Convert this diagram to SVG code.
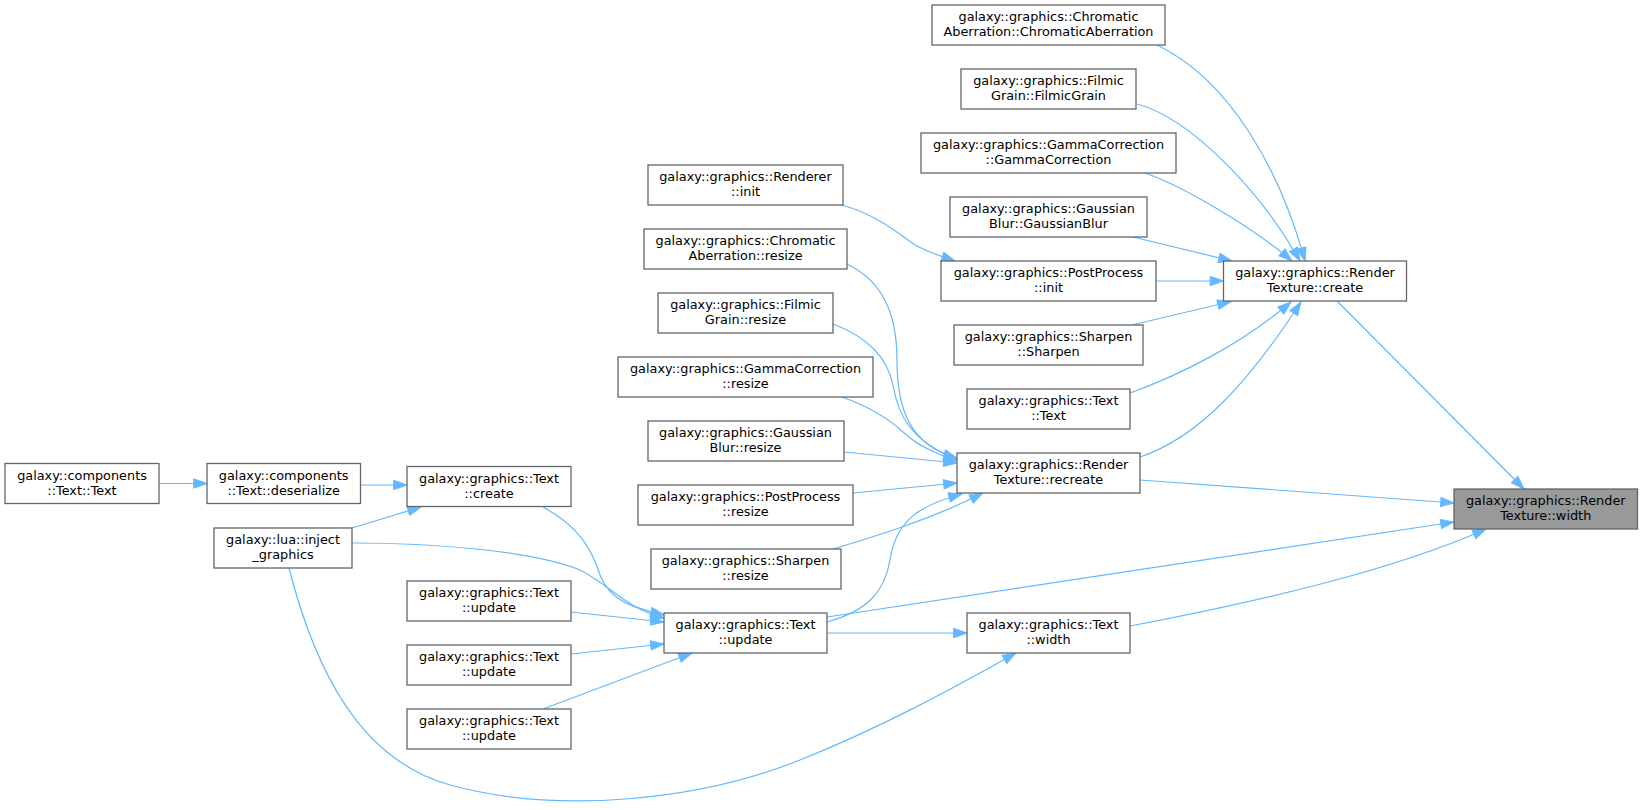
<svg xmlns="http://www.w3.org/2000/svg" width="1643" height="810" viewBox="0 0 1643 810">
<style>
.node rect{fill:#ffffff;stroke:#666666;stroke-width:1.3}
.node.hl rect{fill:#999999}
.node text{font-family:"DejaVu Sans","Noto Sans",sans-serif;font-size:12.85px;text-anchor:middle;fill:#000000}
.edges path{fill:none;stroke:#63b8ff;stroke-width:1.2;marker-end:url(#ah)}
</style>
<defs>
<marker id="ah" markerUnits="userSpaceOnUse" markerWidth="16" markerHeight="12" refX="13.3" refY="4.67" orient="auto" overflow="visible">
<path d="M0,0 L13.3,4.67 L0,9.33 Z" fill="#63b8ff" stroke="#63b8ff" stroke-width="1"/>
</marker>
</defs>
<rect width="1643" height="810" fill="#ffffff"/>
<g class="edges">
<path d="M1337,301 L1524,489"/>
<path d="M1140,480 L1454,503"/>
<path d="M827,617 L1454,522"/>
<path d="M1130,626 C1250,603 1390,572 1486,529"/>
<path d="M1157,45 C1230,80 1280,170 1305,261"/>
<path d="M1137,104 C1190,118 1260,190 1300,261"/>
<path d="M1145,173 C1180,185 1250,225 1292,261"/>
<path d="M1133,237 L1232,261"/>
<path d="M1156,281 L1223.5,281"/>
<path d="M1132,325 L1231,301.5"/>
<path d="M1130,393 C1180,375 1240,345 1291,302"/>
<path d="M1140,457 C1200,437 1250,380 1301,302"/>
<path d="M842,205 C880,216 900,235 915,245 C930,253 940,256 955,261"/>
<path d="M847,264 C880,280 897,310 897,360 C897,410 910,445 957,458"/>
<path d="M833,324 C870,338 888,360 893,385 C898,415 910,440 957,460"/>
<path d="M842,397 C870,407 888,418 903,432 C918,446 935,453 957,461"/>
<path d="M844,452 L957,463"/>
<path d="M853,493 L957,483"/>
<path d="M833,549 C870,538 930,520 983,493"/>
<path d="M827,622 C870,610 885,590 890,560 C896,520 920,505 962,494"/>
<path d="M827,633 L967,633"/>
<path d="M543,507 C580,527 592,550 600,575 C610,600 630,607 664,615"/>
<path d="M352,543 C430,543 530,550 580,570 C610,585 625,608 664,618"/>
<path d="M571,612 L664,622"/>
<path d="M571,654 L664,644"/>
<path d="M543,709 L692,653"/>
<path d="M352,528 L421,507"/>
<path d="M289,568 C315,670 360,760 450,785 C560,815 700,800 800,760 C880,728 950,690 1016,653"/>
<path d="M360.5,485 L407,485"/>
<path d="M159,483.5 L207,483.5"/>
</g>
<g id="n_rt_width" class="node hl"><rect x="1454" y="489" width="183.5" height="40"/><text x="1545.75" y="505.3">galaxy::graphics::Render</text><text x="1545.75" y="520">Texture::width</text></g>
<g id="n_rt_create" class="node"><rect x="1223.5" y="261" width="183" height="40"/><text x="1315" y="277.3">galaxy::graphics::Render</text><text x="1315" y="292">Texture::create</text></g>
<g id="n_rt_recreate" class="node"><rect x="957" y="453" width="183" height="40"/><text x="1048.5" y="469.3">galaxy::graphics::Render</text><text x="1048.5" y="484">Texture::recreate</text></g>
<g id="n_text_update_main" class="node"><rect x="664" y="613" width="163" height="40"/><text x="745.5" y="629.3">galaxy::graphics::Text</text><text x="745.5" y="644">::update</text></g>
<g id="n_text_width" class="node"><rect x="967" y="613" width="163" height="40"/><text x="1048.5" y="629.3">galaxy::graphics::Text</text><text x="1048.5" y="644">::width</text></g>
<g id="n_ca_ctor" class="node"><rect x="932" y="5" width="233" height="40"/><text x="1048.5" y="21.3">galaxy::graphics::Chromatic</text><text x="1048.5" y="36">Aberration::ChromaticAberration</text></g>
<g id="n_fg_ctor" class="node"><rect x="961" y="69" width="175" height="40"/><text x="1048.5" y="85.3">galaxy::graphics::Filmic</text><text x="1048.5" y="100">Grain::FilmicGrain</text></g>
<g id="n_gc_ctor" class="node"><rect x="921" y="133" width="255" height="40"/><text x="1048.5" y="149.3">galaxy::graphics::GammaCorrection</text><text x="1048.5" y="164">::GammaCorrection</text></g>
<g id="n_gb_ctor" class="node"><rect x="950" y="197" width="197" height="40"/><text x="1048.5" y="213.3">galaxy::graphics::Gaussian</text><text x="1048.5" y="228">Blur::GaussianBlur</text></g>
<g id="n_pp_init" class="node"><rect x="941" y="261" width="215" height="40"/><text x="1048.5" y="277.3">galaxy::graphics::PostProcess</text><text x="1048.5" y="292">::init</text></g>
<g id="n_sh_ctor" class="node"><rect x="954" y="325" width="189" height="40"/><text x="1048.5" y="341.3">galaxy::graphics::Sharpen</text><text x="1048.5" y="356">::Sharpen</text></g>
<g id="n_text_ctor" class="node"><rect x="967" y="389" width="163" height="40"/><text x="1048.5" y="405.3">galaxy::graphics::Text</text><text x="1048.5" y="420">::Text</text></g>
<g id="n_renderer_init" class="node"><rect x="648" y="165" width="195" height="40"/><text x="745.5" y="181.3">galaxy::graphics::Renderer</text><text x="745.5" y="196">::init</text></g>
<g id="n_ca_resize" class="node"><rect x="644" y="229" width="203" height="40"/><text x="745.5" y="245.3">galaxy::graphics::Chromatic</text><text x="745.5" y="260">Aberration::resize</text></g>
<g id="n_fg_resize" class="node"><rect x="658" y="293" width="175" height="40"/><text x="745.5" y="309.3">galaxy::graphics::Filmic</text><text x="745.5" y="324">Grain::resize</text></g>
<g id="n_gc_resize" class="node"><rect x="618" y="357" width="255" height="40"/><text x="745.5" y="373.3">galaxy::graphics::GammaCorrection</text><text x="745.5" y="388">::resize</text></g>
<g id="n_gb_resize" class="node"><rect x="648" y="421" width="196" height="40"/><text x="745.5" y="437.3">galaxy::graphics::Gaussian</text><text x="745.5" y="452">Blur::resize</text></g>
<g id="n_pp_resize" class="node"><rect x="638" y="485" width="215" height="40"/><text x="745.5" y="501.3">galaxy::graphics::PostProcess</text><text x="745.5" y="516">::resize</text></g>
<g id="n_sh_resize" class="node"><rect x="651" y="549" width="190" height="40"/><text x="745.5" y="565.3">galaxy::graphics::Sharpen</text><text x="745.5" y="580">::resize</text></g>
<g id="n_text_create" class="node"><rect x="407" y="466.5" width="164" height="40"/><text x="489" y="482.8">galaxy::graphics::Text</text><text x="489" y="497.5">::create</text></g>
<g id="n_text_update1" class="node"><rect x="407" y="581" width="164" height="40"/><text x="489" y="597.3">galaxy::graphics::Text</text><text x="489" y="612">::update</text></g>
<g id="n_text_update2" class="node"><rect x="407" y="645" width="164" height="40"/><text x="489" y="661.3">galaxy::graphics::Text</text><text x="489" y="676">::update</text></g>
<g id="n_text_update3" class="node"><rect x="407" y="709" width="164" height="40"/><text x="489" y="725.3">galaxy::graphics::Text</text><text x="489" y="740">::update</text></g>
<g id="n_inject" class="node"><rect x="214" y="528" width="138" height="40"/><text x="283" y="544.3">galaxy::lua::inject</text><text x="283" y="559">_graphics</text></g>
<g id="n_deserialize" class="node"><rect x="207" y="463.5" width="153.5" height="40"/><text x="283.7" y="479.8">galaxy::components</text><text x="283.7" y="494.5">::Text::deserialize</text></g>
<g id="n_comp_text" class="node"><rect x="5" y="463.5" width="154" height="40"/><text x="82" y="479.8">galaxy::components</text><text x="82" y="494.5">::Text::Text</text></g>
</svg>
